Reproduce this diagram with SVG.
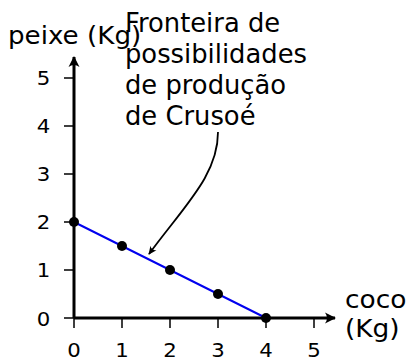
<svg xmlns="http://www.w3.org/2000/svg" width="406" height="359" viewBox="0 0 406 359">
<style>
.t{font-family:"DejaVu Sans",sans-serif;fill:#000}
.big{font-size:24px}
.note{font-size:25.8px}
.num{font-size:19px;text-anchor:middle}
.tick{stroke:#000;stroke-width:1.5;fill:none}
.axis{stroke:#000;stroke-width:3;fill:none}
.dot{fill:#000}
</style>
<defs>
<marker id="ah" viewBox="-12 -6 14 12" markerWidth="14" markerHeight="12" refX="0" refY="0" orient="auto" markerUnits="userSpaceOnUse">
<path d="M1,0 L-10,-5.5 Q-6,0 -10,5.5 Z" fill="#000"/>
</marker>
<marker id="ah2" viewBox="-12 -6 14 12" markerWidth="12" markerHeight="10" refX="0" refY="0" orient="auto" markerUnits="userSpaceOnUse">
<path d="M1,0 L-9,-4.5 Q-5,0 -9,4.5 Z" fill="#000"/>
</marker>
</defs>
<g id="ticks">
<path class="tick" d="M64,78H74M64,126H74M64,174H74M64,222H74M64,270H74M64,318H74"/>
<path class="tick" d="M74,318V328M122,318V328M170,318V328M218,318V328M266,318V328M314,318V328"/>
</g>
<g id="axes">
<path class="axis" d="M74,318V57" marker-end="url(#ah)"/>
<path class="axis" d="M74,318H335" marker-end="url(#ah)"/>
</g>
<g id="connectors">
<path d="M218,132 C218,175 185,205 149,254" stroke="#000" stroke-width="1.8" fill="none" marker-end="url(#ah2)"/>
</g>
<g id="frontier">
<path d="M74,222 L266,318" stroke="#0000ee" stroke-width="2" fill="none"/>
</g>
<g id="points">
<circle class="dot" cx="74" cy="222" r="5"/>
<circle class="dot" cx="122" cy="246" r="5"/>
<circle class="dot" cx="170" cy="270" r="5"/>
<circle class="dot" cx="218" cy="294" r="5"/>
<circle class="dot" cx="266" cy="318" r="5"/>
</g>
<g id="labels">
<text class="t big" transform="translate(8,44) scale(1.09,1)">peixe (Kg)</text>
<g id="note">
<text class="t note" x="125" y="31.5">Fronteira de</text>
<text class="t note" x="125" y="62.5">possibilidades</text>
<text class="t note" x="125" y="93.5">de produção</text>
<text class="t note" x="125" y="124.5">de Crusoé</text>
</g>
<text class="t big" transform="translate(345,308) scale(1.1,1)">coco</text>
<text class="t big" transform="translate(345,337) scale(1.1,1)">(Kg)</text>
</g>
<g id="ylabels">
<text class="t num" transform="translate(43.5,85) scale(1.12,1)">5</text>
<text class="t num" transform="translate(43.5,133) scale(1.12,1)">4</text>
<text class="t num" transform="translate(43.5,181) scale(1.12,1)">3</text>
<text class="t num" transform="translate(43.5,229) scale(1.12,1)">2</text>
<text class="t num" transform="translate(43.5,277) scale(1.12,1)">1</text>
<text class="t num" transform="translate(43.5,326) scale(1.12,1)">0</text>
</g>
<g id="xlabels">
<text class="t num" transform="translate(74,357) scale(1.12,1)">0</text>
<text class="t num" transform="translate(122,357) scale(1.12,1)">1</text>
<text class="t num" transform="translate(170,357) scale(1.12,1)">2</text>
<text class="t num" transform="translate(218,357) scale(1.12,1)">3</text>
<text class="t num" transform="translate(266,357) scale(1.12,1)">4</text>
<text class="t num" transform="translate(314,357) scale(1.12,1)">5</text>
</g>
</svg>
